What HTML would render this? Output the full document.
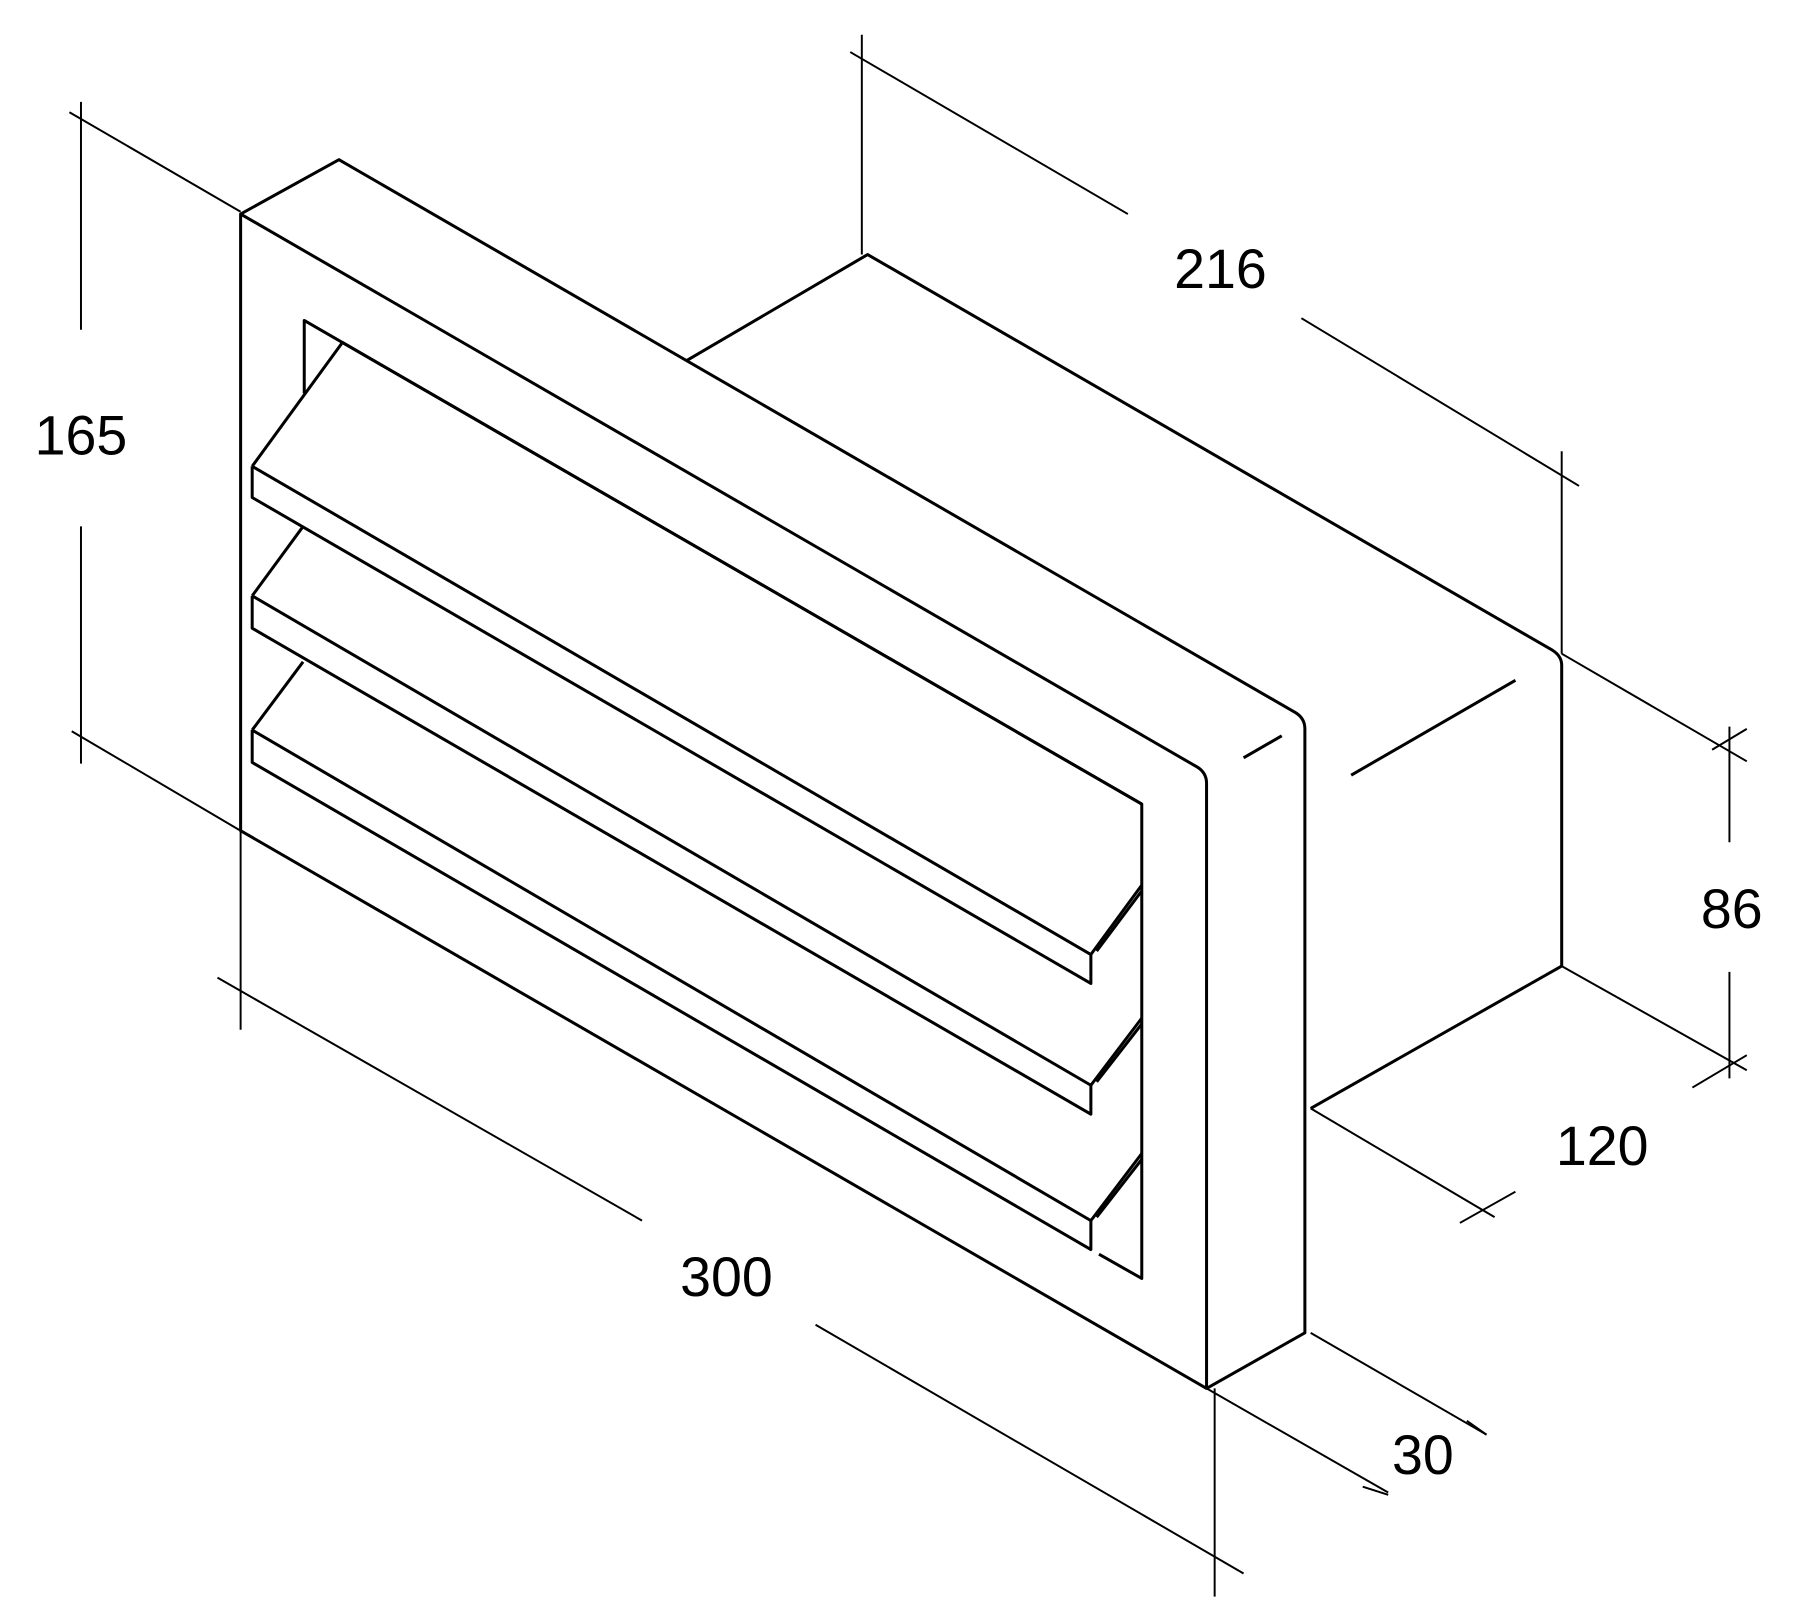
<!DOCTYPE html>
<html><head><meta charset="utf-8"><style>html,body{margin:0;padding:0;background:#fff}svg{display:block}</style></head>
<body>
<svg width="1800" height="1614" viewBox="0 0 1556 1395" preserveAspectRatio="none" xmlns="http://www.w3.org/2000/svg">
<g fill="none" stroke="#000" stroke-width="2.6" stroke-linejoin="round">
<path d="M593,312 L750,220 L1342,562 Q1350,567 1350,575 L1350,835 L1133,958"/>
<line x1="1075" y1="655" x2="1108" y2="636"/>
<line x1="1168" y1="670" x2="1310" y2="588"/>
<path d="M208,185 L293,138 L1120,616 Q1128,621 1128,630 L1128,1152 L1043,1200 L208,718 Z"/>
<path d="M208,185 L1035,663 Q1043,668 1043,677 L1043,1200"/>
<path d="M263,340 L263,277 L987,695 L987,1105 L950,1084"/>
<path d="M218,403 L296,296 L987,695"/>
<path d="M218,403 L218,430 L943,850 L943,825 L218,403"/>
<path d="M943,825 L987,765"/><path d="M948,822 L987,770"/>
<path d="M218,515 L262,455"/>
<path d="M218,515 L218,543 L943,963 L943,938 L218,515"/>
<path d="M943,938 L987,880"/><path d="M948,935 L987,885"/>
<path d="M218,631 L262,572"/>
<path d="M218,631 L218,659 L943,1080 L943,1055 L218,631"/>
<path d="M943,1055 L987,997"/><path d="M948,1052 L987,1002"/>
</g>
<g fill="none" stroke="#000" stroke-width="1.7">
<line x1="70" y1="88" x2="70" y2="285"/><line x1="70" y1="455" x2="70" y2="660"/>
<line x1="60" y1="97" x2="208" y2="183"/><line x1="62" y1="632" x2="208" y2="718"/>
<line x1="745" y1="30" x2="745" y2="220"/>
<line x1="735" y1="45" x2="975" y2="185"/><line x1="1125" y1="275" x2="1365" y2="420"/>
<line x1="1350" y1="390" x2="1350" y2="565"/>
<line x1="1495" y1="628" x2="1495" y2="728"/><line x1="1495" y1="840" x2="1495" y2="932"/>
<line x1="1350" y1="565" x2="1510" y2="658"/><line x1="1350" y1="835" x2="1510" y2="925"/>
<line x1="1463" y1="940" x2="1510" y2="912"/><line x1="1480" y1="648" x2="1510" y2="630"/>
<line x1="1133" y1="958" x2="1292" y2="1052"/>
<line x1="1262" y1="1057" x2="1310" y2="1030"/>
<line x1="1133" y1="1152" x2="1285" y2="1240"/><line x1="1043" y1="1200" x2="1200" y2="1290"/>
<line x1="1268" y1="1228" x2="1285" y2="1240"/><line x1="1178" y1="1285" x2="1200" y2="1292"/>
<line x1="208" y1="718" x2="208" y2="890"/><line x1="1050" y1="1200" x2="1050" y2="1380"/>
<line x1="188" y1="845" x2="555" y2="1055"/><line x1="705" y1="1145" x2="1075" y2="1360"/>
</g>
<g font-family="Liberation Sans, sans-serif" font-size="48" fill="#000" text-anchor="middle">
<text x="70" y="393">165</text>
<text x="1055" y="249">216</text>
<text x="1497" y="802">86</text>
<text x="1385" y="1007">120</text>
<text x="1230" y="1274">30</text>
<text x="628" y="1120">300</text>
</g>
</svg>
</body></html>
